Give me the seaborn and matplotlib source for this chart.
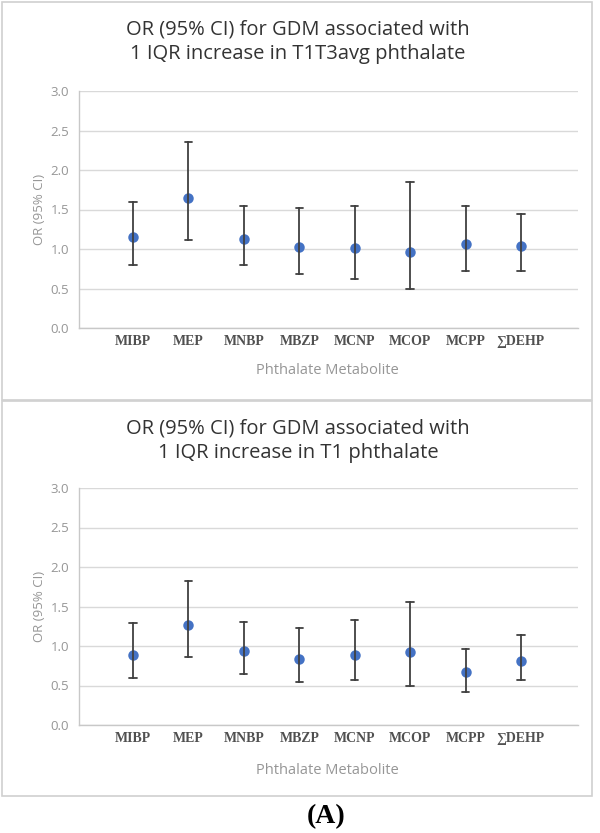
import numpy as np
import pandas as pd
import matplotlib
matplotlib.use("Agg")
import matplotlib.pyplot as plt
import seaborn as sns
from matplotlib.patches import Rectangle

# ---------------------------------------------------------
# Adatok (leolvasva az ábráról)
# ---------------------------------------------------------
metabolites = ["MIBP", "MEP", "MNBP", "MBZP", "MCNP", "MCOP", "MCPP", "\u2211DEHP"]

# T1T3avg
or_t1t3 = [1.15, 1.645, 1.13, 1.03, 1.01, 0.96, 1.06, 1.04]
lo_t1t3 = [0.80, 1.11, 0.80, 0.68, 0.62, 0.50, 0.72, 0.72]
hi_t1t3 = [1.60, 2.36, 1.54, 1.52, 1.54, 1.85, 1.54, 1.44]

# T1
or_t1 = [0.89, 1.26, 0.94, 0.83, 0.89, 0.92, 0.67, 0.81]
lo_t1 = [0.59, 0.86, 0.65, 0.55, 0.57, 0.50, 0.42, 0.57]
hi_t1 = [1.29, 1.82, 1.31, 1.23, 1.33, 1.56, 0.96, 1.14]

yticks = [0.0, 0.5, 1.0, 1.5, 2.0, 2.5, 3.0]

titles = ["OR (95% CI) for GDM associated with\n1 IQR increase in T1T3avg phthalate",
          "OR (95% CI) for GDM associated with\n1 IQR increase in T1 phthalate"]

sns.set_style("white")
plt.rcParams["font.family"] = ["Open Sans", "DejaVu Sans"]

W, H = 600, 833
fig = plt.figure(figsize=(6.0, 8.33), dpi=100)


def long_table(est, lo, hi):
    # 3 sor kategóriánként: median = OR, min-max = CI
    rows = []
    for m, e, l, h in zip(metabolites, est, lo, hi):
        for v in (l, e, h):
            rows.append({"metabolite": m, "value": v})
    return pd.DataFrame(rows)


def panel(top_px, bottom_px, est, lo, hi, title, title_y, xlabel_y, box):
    # keret
    fig.add_artist(Rectangle((2 / W, 1 - box[1] / H), 590 / W, (box[1] - box[0]) / H,
                             transform=fig.transFigure, fill=False,
                             edgecolor="#d0d0d0", linewidth=1.2))
    ax = fig.add_axes([79 / W, 1 - bottom_px / H, 499 / W, (bottom_px - top_px) / H])
    df = long_table(est, lo, hi)
    sns.pointplot(data=df, x="metabolite", y="value", order=metabolites,
                  estimator="median", errorbar=("pi", 100),
                  color="#4472C4", linestyle="none", markers="o", markersize=5.5,
                  capsize=0.13, err_kws={"color": "#404040", "linewidth": 1.3},
                  ax=ax)
    ax.set_ylim(0, 3.0)
    ax.set_xlim(-0.975, 8.03)
    ax.set_yticks(yticks)
    ax.set_yticklabels([f"{t:.1f}" for t in yticks], color="#969696", fontsize=9.5)
    ax.set_xticks(range(len(metabolites)))
    ax.set_xticklabels(metabolites, family=["Liberation Serif", "DejaVu Serif"],
                       fontweight="bold", color="#505050", fontsize=10)
    ax.tick_params(axis="both", length=0)
    ax.tick_params(axis="y", pad=7)
    ax.tick_params(axis="x", pad=5)
    ax.yaxis.grid(True, color="#d9d9d9", linewidth=1)
    ax.set_axisbelow(True)
    for s in ["top", "right"]:
        ax.spines[s].set_visible(False)
    for s in ["left", "bottom"]:
        ax.spines[s].set_color("#c8c8c8")
        ax.spines[s].set_linewidth(1)
    ax.set_xlabel("")
    ax.set_ylabel("OR (95% CI)", color="#969696", fontsize=9.5, labelpad=3)
    fig.text(298 / W, 1 - title_y / H, title, ha="center", va="center",
             fontsize=14.5, color="#333333", linespacing=1.3)
    fig.text(327 / W, 1 - xlabel_y / H, "Phthalate Metabolite", ha="center",
             va="center", fontsize=10.5, color="#969696")
    return ax


panel(91, 328, or_t1t3, lo_t1t3, hi_t1t3, titles[0], 41.5, 371, (2, 400))
panel(488, 725, or_t1, lo_t1, hi_t1, titles[1], 441, 770, (401, 796))

fig.text(326 / W, 1 - 817 / H, "(A)", ha="center", va="center",
         family=["Liberation Serif", "DejaVu Serif"], fontweight="bold",
         fontsize=20, color="black")

fig.savefig("out.png", dpi=100, facecolor="white")
